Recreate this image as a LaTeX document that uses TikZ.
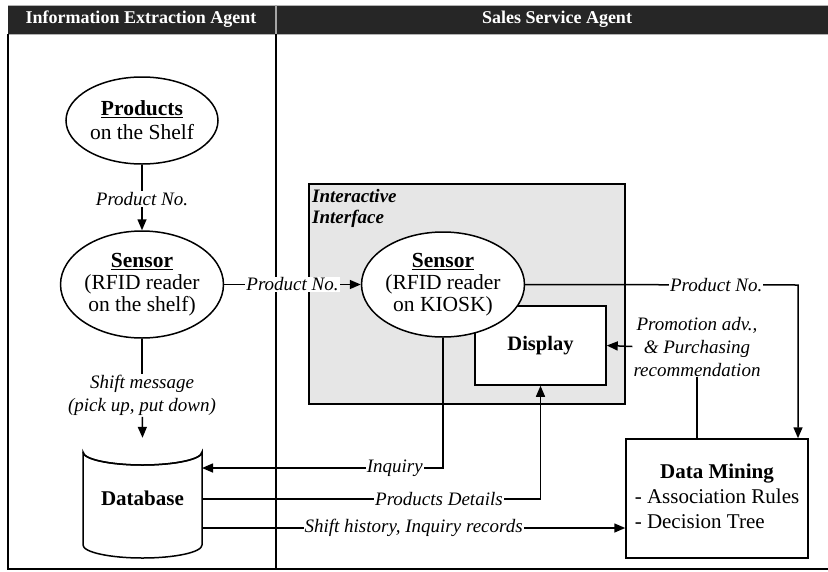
\documentclass[tikz,border=0pt]{standalone}
\usepackage{fontspec}
\setmainfont{Liberation Serif}
\usetikzlibrary{shapes.geometric,arrows.meta}
\tikzset{
  conn/.style={line width=1.5pt},
  arr/.style={conn,-{Triangle[length=11pt,width=9pt]}},
  oval/.style={ellipse,draw,line width=1.5pt,fill=white,inner sep=0pt,align=center,font=\fontsize{21.5}{22}\selectfont},
  boxn/.style={rectangle,draw,line width=1.5pt,fill=white,inner sep=0pt},
  lbl/.style={fill=white,inner sep=1pt,font=\fontsize{19}{23}\selectfont\itshape,align=center},
  hdr/.style={text=white,font=\fontsize{18}{20}\selectfont\bfseries,inner sep=0pt}
}
\begin{document}
\begin{tikzpicture}[x=1pt,y=-1pt]
\useasboundingbox (0,0) rectangle (828,571);
% header
\fill[fill={rgb,255:red,38;green,38;blue,38}] (8,5) rectangle (828,34);
\draw[gray!60,line width=1pt] (8,5) -- (828,5) (8,34) -- (828,34);
\draw[gray!70,line width=1.2pt] (276,5) -- (276,34);
\node[hdr] (h1) at (141,19.5) {Information Extraction Agent};
\node[hdr] (h2) at (557,19.5) {Sales Service Agent};
% frame
\draw[line width=1.8pt] (8,34) -- (8,569) -- (828,569);
\draw[line width=1.8pt] (276,34) -- (276,569);
% interactive interface box
\node[rectangle,draw,line width=1.5pt,fill={rgb,255:red,230;green,230;blue,230},minimum width=316pt,minimum height=220pt,anchor=north west] (ii) at (308,183) {};
\node[anchor=north west,align=left,inner sep=0pt,font=\fontsize{19}{21}\selectfont\bfseries\itshape] (iit) at (312,189) {Interactive\\Interface};
% nodes
\node[oval,minimum width=152pt,minimum height=87pt,font=\fontsize{21.5}{24}\selectfont] (prod) at (142,120.5) {\underline{\textbf{Products}}\\on the Shelf};
\node[oval,minimum width=152pt,minimum height=107pt] (sens1) at (142,284.5) {\underline{\textbf{Sensor}}\\(RFID reader\\on the shelf)};
\node[boxn,minimum width=131pt,minimum height=79pt,font=\fontsize{20.5}{22}\selectfont\bfseries] (disp) at (540.5,345.5) {Display};
\node[oval,minimum width=152pt,minimum height=105pt] (sens2) at (443,284.5) {\underline{\textbf{Sensor}}\\(RFID reader\\on KIOSK)};
\node[boxn,minimum width=182pt,minimum height=119pt,font=\fontsize{21}{25}\selectfont] (dm) at (717,498.5) {\begin{tabular}{@{}l@{}}\multicolumn{1}{@{}c@{}}{\textbf{Data Mining}}\\- Association Rules\\- Decision Tree\end{tabular}};
% database cylinder
\draw[line width=1.5pt,fill=white] (83,452) -- (83,545) arc[start angle=180,end angle=360,x radius=59.5pt,y radius=13pt] -- (202,452) arc[start angle=0,end angle=-180,x radius=59.5pt,y radius=13pt] -- cycle;
\draw[line width=1.5pt] (83,452) arc[start angle=180,end angle=360,x radius=59.5pt,y radius=13pt];
\node[minimum width=119pt,minimum height=120pt,inner sep=0pt,font=\fontsize{21}{22}\selectfont\bfseries] (db) at (142.5,498) {Database};
% connectors
\node[lbl] (pn1) at (142,199) {Product No.};
\draw[conn] (prod) -- (pn1);
\draw[arr] (pn1) -- (sens1);
\node[lbl] (sm) at (142,395.5) {Shift message\\(pick up, put down)};
\draw[conn] (sens1) -- (sm);
\draw[arr] (sm) -- (db.north);
\draw[arr] (sens1.east) -- node[lbl,pos=0.5] (pn2) {Product No.} (sens2.west);
\coordinate (c1) at (798,285);
\draw[arr] (sens2.east) -- node[lbl,pos=0.7] (pn3) {Product No.} (c1) -- (c1 |- dm.north);
\node[lbl] (promo) at (697,346.5) {Promotion adv.,\\\& Purchasing\\recommendation};
\draw[conn] (dm.north -| promo) -- (promo);
\draw[arr] (promo.west) -- (disp.east);
\coordinate (inq) at (202,468);
\draw[arr] (sens2.south) |- node[lbl,pos=0.6] (inql) {Inquiry} (inq);
\coordinate (pdA) at (202,499);
\draw[arr] (pdA) -| node[lbl,pos=0.35] (pdl) {Products Details} (disp.south);
\coordinate (shA) at (202,528);
\draw[arr] (shA) -- node[lbl,pos=0.5] (shl) {Shift history, Inquiry records} (dm.west |- shA);
\end{tikzpicture}
\end{document}
